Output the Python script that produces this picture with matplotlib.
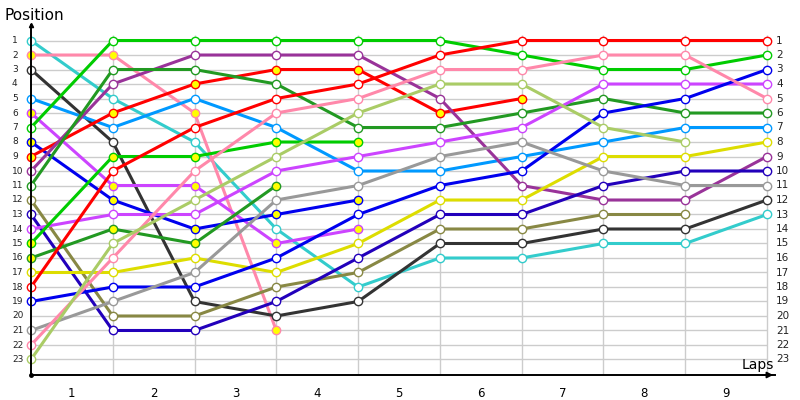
import matplotlib
matplotlib.use("Agg")
import matplotlib.pyplot as plt

plt.rcParams['font.family'] = ['DejaVu Sans']

laps = list(range(0, 10))
lap_labels = ["1", "2", "3", "4", "5", "6", "7", "8", "9"]
positions = list(range(1, 24))

# each driver: positions per lap (lap 0 .. last lap completed)
cyan1 = [1, 5, 8, 14, 18, 16, 16, 15, 15, 13]
pink1 = [2, 2, 6, 21]
black1 = [3, 8, 19, 20, 19, 15, 15, 14, 14, 12]
lightblue1 = [5, 7, 5, 7, 10, 10, 9, 8, 7, 7]
violet1 = [6, 11, 11, 15, 14]
green1 = [7, 1, 1, 1, 1, 1, 2, 3, 3, 2]
blue1 = [8, 12, 14, 13, 12]
red1 = [9, 6, 4, 3, 3, 6, 5]
purple1 = [10, 4, 2, 2, 2, 5, 11, 12, 12, 9]
darkgreen1 = [11, 3, 3, 4, 7, 7, 6, 5, 6, 6]
olive1 = [12, 20, 20, 18, 17, 14, 14, 13, 13]
navy1 = [13, 21, 21, 19, 16, 13, 13, 11, 10, 10]
violet2 = [14, 13, 13, 10, 9, 8, 7, 4, 4, 4]
green2 = [15, 9, 9, 8, 8]
darkgreen2 = [16, 14, 15, 11]
yellow1 = [17, 17, 16, 17, 15, 12, 12, 9, 9, 8]
red2 = [18, 10, 7, 5, 4, 2, 1, 1, 1, 1]
blue2 = [19, 18, 18, 16, 13, 11, 10, 6, 5, 3]
gray1 = [21, 19, 17, 12, 11, 9, 8, 10, 11, 11]
pink2 = [22, 16, 10, 6, 5, 3, 3, 2, 2, 5]
lightgreen1 = [23, 15, 12, 9, 6, 4, 4, 7, 8]

series = [cyan1, pink1, black1, lightblue1, violet1, green1, blue1, red1,
          purple1, darkgreen1, olive1, navy1, violet2, green2, darkgreen2,
          yellow1, red2, blue2, gray1, pink2, lightgreen1]
colors = ['#33cccc', '#ff88aa', '#333333', '#0099ff', '#cc44ff', '#00cc00',
          '#0000ee', '#ff0000', '#993399', '#229922', '#888844', '#2200bb',
          '#cc44ff', '#00cc00', '#229922', '#dddd00', '#ff0000', '#0000ee',
          '#999999', '#ff88aa', '#aacc66']
retired = [False, True, False, False, True, False, True, True,
           False, False, False, False, False, True, True,
           False, False, False, False, False, False]

W, H = 800, 400
fig = plt.figure(figsize=(8, 4), dpi=100)
x0, x9 = 31, 767
pxlap = (x9 - x0) / 9.0
xmax = 9.1
ax = fig.add_axes([x0 / W, 25 / H, xmax * pxlap / W, 350 / H])
ax.set_xlim(0, xmax)
ax.set_ylim(24.07, -0.07)

for s in ['top', 'right']:
    ax.spines[s].set_visible(False)
for s in ['left', 'bottom']:
    ax.spines[s].set_color('black')
    ax.spines[s].set_linewidth(1.4)
ax.set_xticks([])
ax.set_yticks([])

# grid
ax.hlines(positions, 0, 9, color='#cccccc', lw=1, zorder=0)
ax.vlines(laps[1:], 0.65, 24.07, color='#cccccc', lw=1, zorder=0)

for ys, c, r in zip(series, colors, retired):
    xs = laps[:len(ys)]
    ax.plot(xs, ys, color=c, lw=2.2, zorder=2, solid_capstyle='round',
            marker='o', markersize=6, markerfacecolor='#ffff00' if r else 'white',
            markeredgecolor=c, markeredgewidth=1.0, clip_on=False)

# tick labels
for p in positions:
    ax.text(12 / W, 1 - (40.5 + (p - 1) * 14.5) / H, str(p), transform=fig.transFigure,
            ha='left', va='center', fontsize=6.5, color='#222222')
    ax.text(776 / W, 1 - (40.5 + (p - 1) * 14.5) / H, str(p), transform=fig.transFigure,
            ha='left', va='center', fontsize=7.5, color='#222222')
for i, lab in enumerate(lap_labels):
    ax.text(i + 0.5, 24.07, lab, ha='center', va='top', fontsize=8.5,
            transform=ax.transData, clip_on=False)
for t in ax.texts[-9:]:
    t.set_y(24.07)
    t.set_va('center')
    t.set_position((t.get_position()[0], 24.07 + 19 / 14.5))

fig.text(5 / W, 1 - 16 / H, 'Position', ha='left', va='center', fontsize=11)
fig.text(742 / W, 1 - 365 / H, 'Laps', ha='left', va='center', fontsize=10)

# axis arrows
ax.annotate('', xy=(776 / W, 25 / H), xycoords='figure fraction',
            xytext=(760 / W, 25 / H), textcoords='figure fraction',
            arrowprops=dict(arrowstyle='-|>', color='black', lw=1.2, mutation_scale=9))
ax.plot([0], [-0.07], marker='^', color='black', markersize=3, clip_on=False, zorder=5)
ax.plot([0], [24.07], marker='o', color='black', markersize=2.5, clip_on=False, zorder=5)

fig.savefig('out.png', dpi=100)
